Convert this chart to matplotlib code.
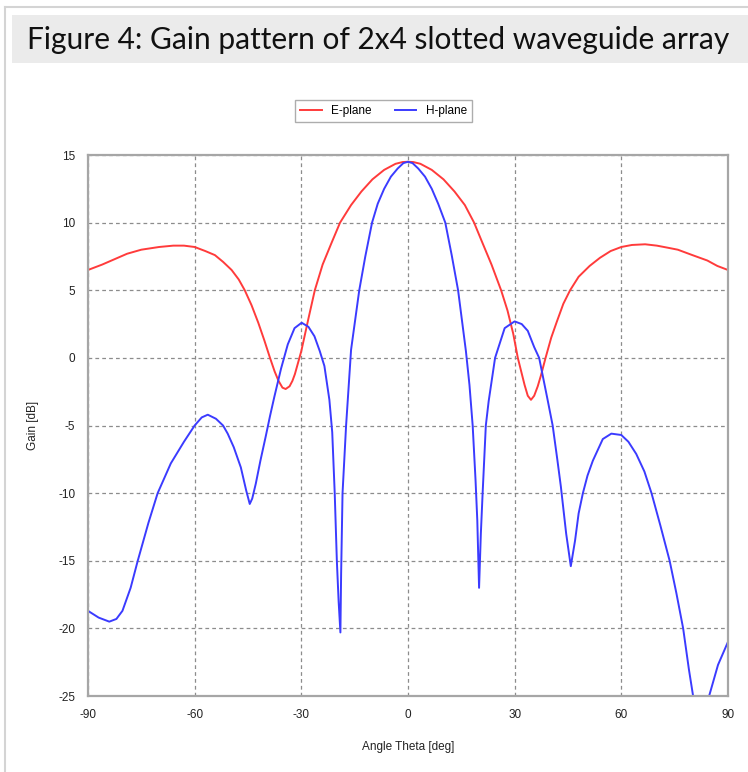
import matplotlib
matplotlib.use('Agg')
import matplotlib.pyplot as plt
from matplotlib.lines import Line2D

# E-plane gain
e_theta = [-90, -86, -82.5, -79, -75, -70, -66, -63, -60, -57, -54.3, -52,
           -49.6, -47.6, -45.9, -44, -42.1, -40.4, -38.8, -37.5, -36.4,
           -35.3, -34.4, -33.3, -32.5, -31.8, -30, -28, -26.2, -24, -21.5,
           -19.1, -16, -13.1, -10, -6.7, -3.5, -1.5, 0, 1.5, 3.5, 6.7, 10,
           13.1, 16, 18.6, 20.8, 23.5, 26.2, 28, 29.6, 30.9, 32.8, 33.7, 34.6,
           35.5, 36.5, 37.4, 38.7, 40.3, 41.9, 43.7, 45.6, 48, 51.1, 54, 57,
           60, 63, 66.7, 70, 73, 75.9, 80, 84.2, 87, 90]
e_gain = [6.5, 6.9, 7.3, 7.7, 8.0, 8.2, 8.3, 8.3, 8.2, 7.9, 7.6, 7.1,
          6.5, 5.8, 5.0, 3.9, 2.6, 1.3, 0.0, -1.0, -1.7,
          -2.2, -2.3, -2.1, -1.7, -1.2, 0.5, 2.9, 5.0, 6.9, 8.5,
          10.0, 11.3, 12.3, 13.2, 13.9, 14.35, 14.48, 14.5, 14.48, 14.35,
          13.9, 13.2, 12.3, 11.3, 10.0, 8.6, 6.9, 5.0, 3.5, 1.8, 0.0, -2.0,
          -2.8, -3.1, -2.8, -2.1, -1.3, 0.0, 1.5, 2.7, 4.0, 5.0, 6.0, 6.8,
          7.4, 7.9, 8.2, 8.35, 8.4, 8.3, 8.15, 8.0, 7.6, 7.2, 6.8, 6.5]

# H-plane gain
h_theta = [-90, -87, -84, -82, -80.3, -78, -76, -73, -70.4, -66.7, -63, -60,
           -58, -56.3, -54, -52, -50.7, -49, -47, -45.5, -44.5, -43.8, -42.8,
           -41.5, -40, -38.8, -37.6, -35.7, -33.8, -31.9, -29.9, -28, -26.3,
           -24.8, -23.5, -22.1, -21.3, -20.6, -20, -19.5, -19, -18.8, -18.4,
           -17.4, -16, -13.7, -12, -10.1, -8.5, -6.7, -4.8, -2.9, -1.3, 0,
           1.3, 2.9, 4.8, 6.7, 8.5, 10.5, 12.3, 14.1, 16.3, 17.3, 18.2, 19.0,
           19.5, 20.0, 20.5, 21, 21.9, 22.7, 24.5, 27.2, 30, 32, 33.7, 35.5,
           36.9, 39.2, 40.7, 42, 43, 44.5, 45.8, 47, 48, 49.2, 50.5, 52, 54.8,
           57.2, 60, 62, 64.2, 66.5, 68.5, 71, 73.6, 75.5, 77.4, 79, 80.2,
           82.4, 84.7, 87.2, 90]
h_gain = [-18.7, -19.2, -19.5, -19.3, -18.7, -17.0, -15.0, -12.2, -10.0, -7.8,
          -6.2, -5.0, -4.4, -4.2, -4.5, -5.0, -5.6, -6.6, -8.1, -9.8, -10.8,
          -10.4, -9.3, -7.6, -5.8, -4.3, -2.9, -0.8, 1.0, 2.2, 2.6, 2.3, 1.6,
          0.5, -0.6, -3.1, -5.5, -10.0, -15.0, -18.0, -20.3, -16.0, -10.0,
          -5.0, 0.6, 5.0, 7.5, 10.0, 11.4, 12.5, 13.4, 14.0, 14.4, 14.5,
          14.4, 14.0, 13.4, 12.5, 11.4, 10.0, 7.6, 5.0, 0.5, -2.0, -5.0, -9.0,
          -12.0, -17.0, -13.0, -10.0, -5.0, -3.2, 0.0, 2.2, 2.7, 2.5, 2.0,
          0.8, 0.0, -3.0, -5.0, -7.5, -9.5, -13.0, -15.4, -13.5, -11.5, -10.0,
          -8.7, -7.6, -6.0, -5.6, -5.7, -6.2, -7.1, -8.4, -10.0, -12.4, -15.0,
          -17.4, -20.0, -23.0, -25.0, -29.0, -25.0, -22.7, -21.0]

x_ticks = [-90, -60, -30, 0, 30, 60, 90]
y_ticks = [-25, -20, -15, -10, -5, 0, 5, 10, 15]

plt.rcParams['axes.unicode_minus'] = False
plt.rcParams['font.family'] = ['Liberation Sans', 'DejaVu Sans']

fig = plt.figure(figsize=(7.48, 7.72), dpi=100)
fig.patch.set_facecolor('white')

# page frame and title banner
fig.add_artist(Line2D([0.007, 0.007], [0.0, 0.991], color='#d4d4d4', lw=1.5))
fig.add_artist(Line2D([0.007, 1.0], [0.991, 0.991], color='#d4d4d4', lw=1.5))
fig.add_artist(plt.Rectangle((0.016, 0.918), 0.984, 0.062,
                             facecolor='#ebebeb', edgecolor='none'))
fig.text(0.505, 0.948, 'Figure 4: Gain pattern of 2x4 slotted waveguide array',
         ha='center', va='center', fontsize=21.5, family='Lato', color='#111111')

ax = fig.add_axes([0.1176, 0.0984, 0.8556, 0.7008])
ax.plot(e_theta, e_gain, color='#ff3b3b', lw=1.4, label='E-plane')
ax.plot(h_theta, h_gain, color='#3b3bff', lw=1.4, label='H-plane')

ax.set_xlim(-90, 90)
ax.set_ylim(-25, 15)
ax.set_xticks(x_ticks)
ax.set_yticks(y_ticks)
ax.tick_params(length=0, pad=9, labelsize=8.5, labelcolor='#222222')
ax.grid(True, color='#8c8c8c', ls=(0, (3, 2.5)), lw=0.9)
for s in ax.spines.values():
    s.set_color('#a6a6a6')
    s.set_linewidth(1.6)

ax.set_xlabel('Angle Theta [deg]', fontsize=8.5, color='#222222', labelpad=15)
ax.set_ylabel('Gain [dB]', fontsize=8.5, color='#222222', labelpad=14)

fig.legend(loc='center', bbox_to_anchor=(0.513, 0.856), ncol=2,
           fontsize=8.5, frameon=True, fancybox=False, edgecolor='#999999',
           handlelength=1.8, columnspacing=2.0, handletextpad=0.8,
           borderpad=0.45)

fig.savefig('out.png', dpi=100)
